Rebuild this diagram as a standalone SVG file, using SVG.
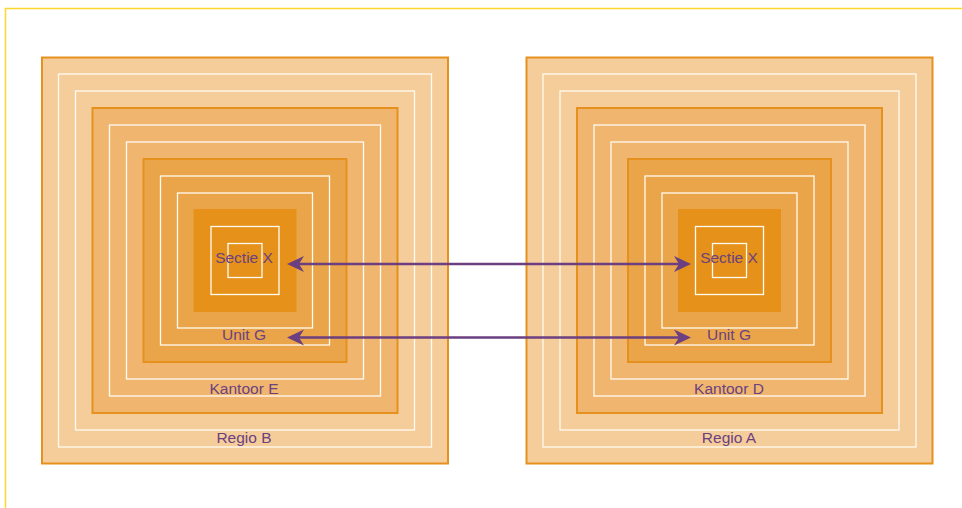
<svg xmlns="http://www.w3.org/2000/svg" width="962" height="508" viewBox="0 0 962 508">
  <style>
    .frame { fill: none; stroke: #FFD52E; stroke-width: 1.5; }
    .regio { fill: #F5CD9B; stroke: #E6911E; stroke-width: 2; }
    .kantoor { fill: #F0B66F; stroke: #E6911E; stroke-width: 2; }
    .unit { fill: #EAA449; stroke: #E6911E; stroke-width: 2; }
    .sectie { fill: #E5911A; }
    .ring { fill: none; stroke: #FFFAF2; stroke-width: 1.3; }
    .label { font-family: "Liberation Sans", Arial, sans-serif; font-size: 15.5px; fill: #6B4180; text-anchor: middle; }
    .link { fill: none; stroke: #6B3F80; stroke-width: 2.5; marker-start: url(#head); marker-end: url(#head); }
  </style>
  <defs>
    <marker id="head" viewBox="0 -8 17 16" refX="6" refY="0" markerWidth="17" markerHeight="16" markerUnits="userSpaceOnUse" orient="auto-start-reverse" overflow="visible">
      <path d="M0,-8 L17,0 L0,8 L5,0 Z" fill="#6B3F80"/>
    </marker>
  </defs>

  <rect class="frame" x="5.5" y="8.5" width="980" height="520"/>

  <!-- left hierarchy -->
  <g id="regio-b">
    <rect class="regio" x="42" y="57.5" width="406" height="406"/>
    <rect class="ring" x="58.5" y="74" width="373" height="373"/>
    <rect class="ring" x="75.5" y="91" width="339" height="339"/>
    <text class="label" x="244" y="442.7">Regio B</text>
  </g>
  <g id="kantoor-e">
    <rect class="kantoor" x="92.5" y="108" width="305" height="305"/>
    <rect class="ring" x="109.5" y="125" width="271" height="271"/>
    <rect class="ring" x="126.5" y="142" width="237" height="237"/>
    <text class="label" x="244" y="394.3">Kantoor E</text>
  </g>
  <g id="unit-g-left">
    <rect class="unit" x="143.5" y="159" width="203" height="203"/>
    <rect class="ring" x="160.5" y="176" width="169" height="169"/>
    <rect class="ring" x="177.5" y="193" width="135" height="135"/>
    <text class="label" x="244" y="340">Unit G</text>
  </g>
  <g id="sectie-x-left">
    <rect class="sectie" x="193.5" y="209" width="103" height="103"/>
    <rect class="ring" x="211" y="226.5" width="68" height="68"/>
    <rect class="ring" x="228" y="243.5" width="34" height="34"/>
    <text class="label" x="244" y="263.3">Sectie X</text>
  </g>

  <!-- right hierarchy -->
  <g id="regio-a">
    <rect class="regio" x="526.5" y="57.5" width="406" height="406"/>
    <rect class="ring" x="543" y="74" width="373" height="373"/>
    <rect class="ring" x="560" y="91" width="339" height="339"/>
    <text class="label" x="729" y="442.7">Regio A</text>
  </g>
  <g id="kantoor-d">
    <rect class="kantoor" x="577" y="108" width="305" height="305"/>
    <rect class="ring" x="594" y="125" width="271" height="271"/>
    <rect class="ring" x="611" y="142" width="237" height="237"/>
    <text class="label" x="729" y="394.3">Kantoor D</text>
  </g>
  <g id="unit-g-right">
    <rect class="unit" x="628" y="159" width="203" height="203"/>
    <rect class="ring" x="645" y="176" width="169" height="169"/>
    <rect class="ring" x="662" y="193" width="135" height="135"/>
    <text class="label" x="729" y="340">Unit G</text>
  </g>
  <g id="sectie-x-right">
    <rect class="sectie" x="678" y="209" width="103" height="103"/>
    <rect class="ring" x="695.5" y="226.5" width="68" height="68"/>
    <rect class="ring" x="712.5" y="243.5" width="34" height="34"/>
    <text class="label" x="729" y="263.3">Sectie X</text>
  </g>

  <!-- connectors -->
  <g id="connectors">
    <line class="link" x1="298" y1="264" x2="680" y2="264"/>
    <line class="link" x1="298" y1="337.5" x2="680" y2="337.5"/>
  </g>
</svg>
